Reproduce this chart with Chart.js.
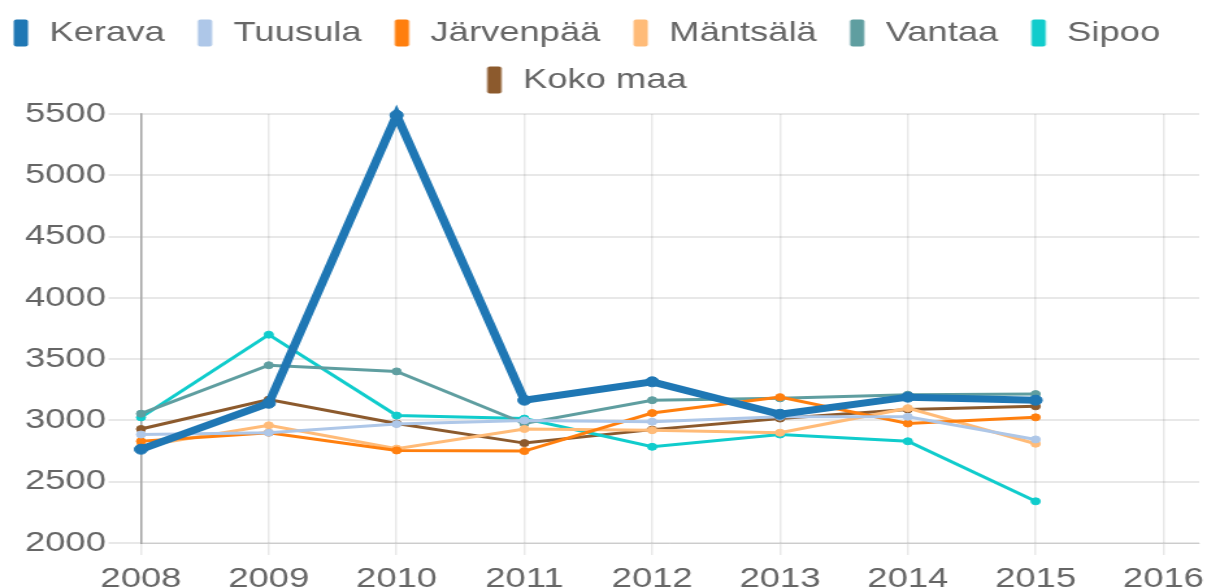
<!DOCTYPE html>
<html><head><meta charset="utf-8">
<script src="https://cdn.jsdelivr.net/npm/chart.js@4.4.0/dist/chart.umd.min.js"></script>
<style>
html,body{margin:0;padding:0;background:#fff;overflow:hidden;width:1207px;height:587px}
#wrap{width:929px;height:600px;transform-origin:0 0;transform:scaleX(1.29925)}
canvas{display:block}
</style></head><body>
<div id="wrap"><canvas id="c" width="929" height="600" style="width:929px;height:600px"></canvas></div>
<script>
const years = [2008, 2009, 2010, 2011, 2012, 2013, 2014, 2015];
const xTickLabels = [2008, 2009, 2010, 2011, 2012, 2013, 2014, 2015, 2016];
const yTickLabels = [2000, 2500, 3000, 3500, 4000, 4500, 5000, 5500];
const seriesNames = ['Kerava', 'Tuusula', 'Järvenpää', 'Mäntsälä', 'Vantaa', 'Sipoo', 'Koko maa'];
const kerava    = [2765, 3140, 5490, 3165, 3315, 3050, 3190, 3165];
const tuusula   = [2885, 2900, 2970, 3000, 2990, 3030, 3030, 2845];
const jarvenpaa = [2830, 2900, 2755, 2750, 3060, 3190, 2975, 3025];
const mantsala  = [2790, 2960, 2770, 2930, 2920, 2900, 3100, 2810];
const vantaa    = [3055, 3450, 3400, 2975, 3165, 3180, 3210, 3215];
const sipoo     = [3025, 3700, 3040, 3015, 2785, 2885, 2830, 2340];
const kokoMaa   = [2930, 3170, 2975, 2815, 2925, 3015, 3090, 3115];
const seriesValues = [kerava, tuusula, jarvenpaa, mantsala, vantaa, sipoo, kokoMaa];
const colors = ['#1f77b4', '#aec7e8', '#ff7f0e', '#ffbb78', '#5f9ea0', '#10cccc', '#8c5a2d'];

const FONT = {family: '"Liberation Sans", Arial, sans-serif', size: 28};
const LEGEND_H = 114;

function boxImage(color) {
  const c = document.createElement('canvas');
  c.width = 20; c.height = 28;
  const g = c.getContext('2d');
  g.fillStyle = color;
  g.beginPath();
  if (g.roundRect) g.roundRect(6.5, 0.5, 11, 27, 2); else g.rect(6.5, 0.5, 11, 27);
  g.fill();
  return c;
}
const boxImgs = colors.map(boxImage);

const legendTweak = {
  id: 'legendTweak',
  beforeLayout(chart) {
    const lg = chart.legend;
    if (lg && !lg._tweaked) {
      lg._tweaked = true;
      const upd = lg.update.bind(lg);
      lg.update = function (w, h, m) { upd(w + 60, h, m); };
      const fit = lg.fit.bind(lg);
      lg.fit = function () { fit(); this.height = LEGEND_H; };
    }
  },
  afterLayout(chart) {
    const lg = chart.legend;
    lg.left -= 55; lg.right += 25;
  }
};

const datasets = seriesNames.map((name, i) => ({
  label: name,
  data: years.map((y, j) => ({x: y, y: seriesValues[i][j]})),
  borderColor: colors[i],
  backgroundColor: colors[i],
  pointBackgroundColor: colors[i],
  pointBorderColor: colors[i],
  borderWidth: i === 0 ? 7 : 3,
  pointRadius: i === 0 ? 5 : 3.5,
  pointBorderWidth: 1,
  tension: 0,
  fill: false,
  clip: false
}));

new Chart(document.getElementById('c'), {
  type: 'line',
  data: {datasets},
  plugins: [legendTweak],
  options: {
    responsive: false,
    animation: false,
    devicePixelRatio: 1,
    layout: {padding: {left: 0, right: 2, top: 0, bottom: 0}},
    plugins: {
      tooltip: {enabled: false},
      legend: {
        position: 'top',
        labels: {
          font: FONT,
          color: '#666',
          usePointStyle: true,
          pointStyleWidth: 20,
          boxHeight: 28,
          padding: 19,
          generateLabels(chart) {
            const items = Chart.defaults.plugins.legend.labels.generateLabels(chart);
            items.forEach((it, i) => { it.pointStyle = boxImgs[i]; });
            return items;
          }
        }
      }
    },
    scales: {
      x: {
        type: 'linear',
        min: 2008,
        max: 2016.28,
        afterBuildTicks(scale) { scale.ticks = xTickLabels.map(v => ({value: v})); },
        afterFit(scale) { scale.height = 57; scale.paddingLeft = 0; scale.paddingRight = 0; },
        ticks: {font: FONT, color: '#666', padding: 7, maxRotation: 0, autoSkip: false,
          callback: v => String(v)},
        grid: {color: 'rgba(0,0,0,0.09)', lineWidth: 1.5, tickLength: 12},
        border: {color: 'rgba(0,0,0,0.12)'}
      },
      y: {
        type: 'linear',
        min: 2000,
        max: 5500,
        afterBuildTicks(scale) { scale.ticks = yTickLabels.map(v => ({value: v})); },
        afterFit(scale) { scale.width = 108.5; scale.paddingTop = 0; scale.paddingBottom = 0; },
        ticks: {font: FONT, color: '#666', padding: 2, callback: v => String(v)},
        grid: {color: 'rgba(0,0,0,0.09)', lineWidth: 2, tickLength: 25},
        border: {color: 'rgba(0,0,0,0.3)', width: 1.5}
      }
    }
  }
});
</script>
</body></html>
